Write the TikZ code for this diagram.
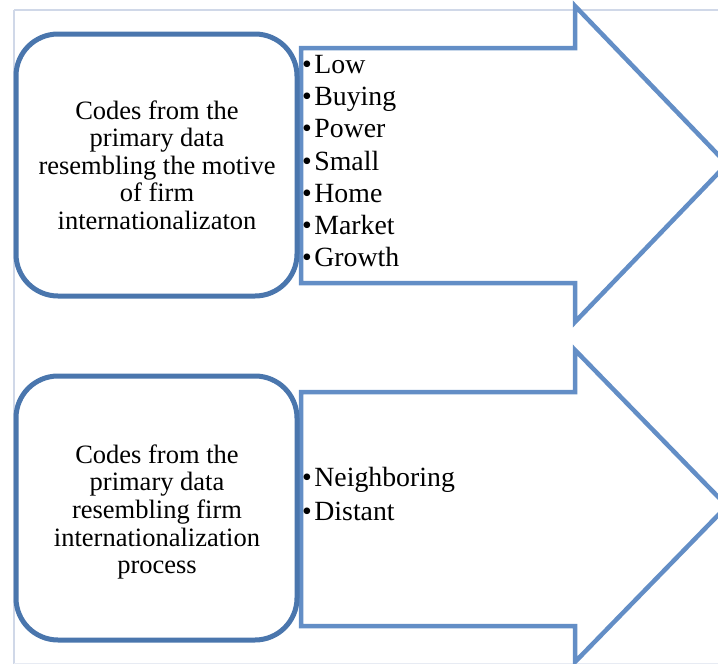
\documentclass[tikz,border=0pt]{standalone}
\usepackage{fontspec}
\setmainfont{Liberation Serif}
\newcommand{\itembullet}{•\hspace{2.5pt}}
\begin{document}
\begin{tikzpicture}[x=1pt,y=-1pt,
  framerule/.style={draw=frameline,line width=2pt},
  bigarrow/.style={draw=arrowblue,line width=4.5pt,fill=white,line join=miter,miter limit=10},
  codebox/.style={draw=boxblue,line width=5pt,fill=white,rounded corners=42pt},
  boxtext/.style={align=center,font=\fontsize{26.5}{27.6}\selectfont,inner sep=0pt},
  listtext/.style={align=left,anchor=north west,font=\fontsize{27.8}{32.2}\selectfont,inner sep=0pt}]
\definecolor{frameline}{RGB}{208,216,232}
\definecolor{arrowblue}{RGB}{99,142,198}
\definecolor{boxblue}{RGB}{74,118,173}
\useasboundingbox (0,0) rectangle (718,664);
\clip (0,0) rectangle (718,664);
% page frame
\draw[framerule] (14,10) -- (720,10);
\draw[framerule] (14,10) -- (14,666);
\draw[draw=frameline!50,line width=1pt] (14,663.5) -- (720,663.5);
% block arrows
\draw[bigarrow] (301,48) -- (575,48) -- (575,6) -- (727,164) -- (575,322)
  -- (575,283) -- (301,283) -- cycle;
\draw[bigarrow] (301,392) -- (575,392) -- (575,350) -- (727,506) -- (575,662)
  -- (575,626) -- (301,626) -- cycle;
% rounded code boxes
\draw[codebox] (16,34) rectangle (297,296);
\draw[codebox] (16,376) rectangle (297,640);
\node[boxtext] (motive) at (157,165) {Codes from the\\primary data\\resembling the motive\\of firm\\internationalizaton};
\node[boxtext] (process) at (157,512) {Codes from the\\primary data\\resembling firm\\internationalization\\process};
% bullet lists
\node[listtext] (motivelist) at (302,55) {\itembullet Low\\\itembullet Buying\\\itembullet Power\\\itembullet Small\\\itembullet Home\\\itembullet Market\\\itembullet Growth};
\node[listtext,font=\fontsize{27.8}{34}\selectfont] (processlist) at (302,467) {\itembullet Neighboring\\\itembullet Distant};
\end{tikzpicture}
\end{document}
